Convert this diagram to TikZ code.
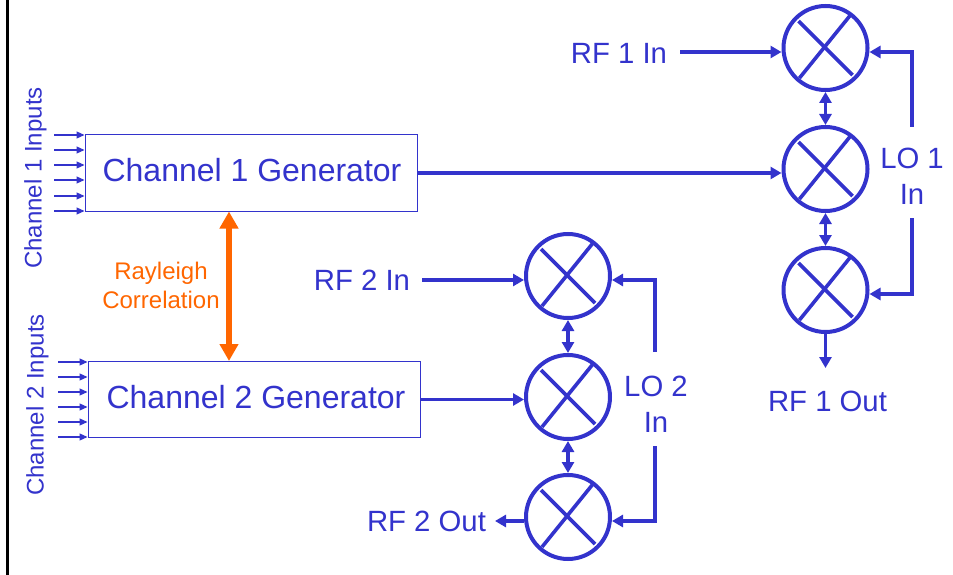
\documentclass[tikz,border=0pt]{standalone}
\usepackage{fontspec}
\setmainfont{Liberation Sans}
\usepackage{xcolor}
\usetikzlibrary{arrows.meta, positioning, calc}
\definecolor{sigblue}{HTML}{3333CC}
\definecolor{corrorange}{HTML}{FF6600}

\begin{document}
\begin{tikzpicture}[x=1pt, y=-1pt, sigblue,
    lbl/.style={inner sep=0pt, align=center, font=\fontsize{29.3}{36}\selectfont},
    small/.style={inner sep=0pt, align=center, font=\fontsize{24}{29}\selectfont},
    gen/.style={draw, line width=1pt, minimum width=332pt, minimum height=76pt, inner sep=0pt, text depth=6pt, font=\fontsize{32}{36}\selectfont},
    mixer/.style={draw, circle, line width=4pt, minimum size=84pt, inner sep=0pt},
    wire/.style={line width=3.6pt},
    sig/.style={wire, -{Triangle[length=11pt, width=12pt]}},
    dbl/.style={wire, {Triangle[length=11pt, width=12pt]}-{Triangle[length=11pt, width=12pt]}},
    pin/.style={line width=1.1pt, -{Triangle[length=8pt, width=7pt]}}]
\useasboundingbox (0, 0) rectangle (953, 575);
% Frame edge
\draw[black, line width=3pt] (7, 0) -- (7, 575);
% Generators
\node[gen] (ch1) at (251, 173) {\hspace*{2pt}Channel 1 Generator};
\node[gen] (ch2) at (254, 399.5) {\hspace*{4pt}Channel 2 Generator};
\node[small, rotate=90] (ch1in) at (35.5, 178) {Channel 1 Inputs};
\node[small, rotate=90] (ch2in) at (37.5, 405) {Channel 2 Inputs};
\foreach \i/\yy in {1/135, 2/150, 3/165, 4/180, 5/196, 6/211} {
  \coordinate (pa\i) at (54, \yy);
  \draw[pin] (pa\i) -- (pa\i -| ch1.west);
}
\foreach \i/\yy in {1/362, 2/377, 3/392, 4/407, 5/422, 6/437} {
  \coordinate (pb\i) at (58, \yy);
  \draw[pin] (pb\i) -- (pb\i -| ch2.west);
}
% Correlation
\node[small, corrorange] (corr) at (161, 285.5) {Rayleigh\\Correlation};
\draw[corrorange, line width=6pt, {Triangle[length=17pt, width=18pt]}-{Triangle[length=17pt, width=18pt]}]
  (ch1.south -| 229, 212) -- (ch2.north -| 229, 362);
% Mixers
\foreach \name/\xx/\yy in {ma/825.5/48, mb/825.5/169, mc/825.5/290, md/568/276, me/568/397, mf/568/517} {
  \node[mixer] (\name) at (\xx, \yy) {};
  \draw[wire] ([shift={(-27,-27)}]\name.center) -- ([shift={(27,27)}]\name.center);
  \draw[wire] ([shift={(25,-33)}]\name.center) -- ([shift={(-26,30)}]\name.center);
}
\draw[dbl] (ma) -- (mb);
\draw[dbl] (mb) -- (mc);
\draw[dbl] (md) -- (me);
\draw[dbl] (me) -- (mf);
% Channel 1 side
\node[lbl] (rf1in) at (619, 53) {RF 1 In};
\node[lbl] (lo1) at (912, 176) {LO 1\\In};
\node[lbl] (rf1out) at (827.5, 401) {RF 1 Out};
\coordinate (rf1a) at (680, 52);
\coordinate (lo1a) at (912, 127);
\coordinate (lo1b) at (912, 218);
\coordinate (rf1b) at (825.5, 368);
\draw[sig] (rf1a) -- (rf1a -| ma.west);
\draw[sig] (ch1.east) -- (ch1.east -| mb.west);
\draw[sig] (lo1a) |- ([yshift=-4pt]ma.east);
\draw[sig] (lo1b) |- ([yshift=-4pt]mc.east);
\draw[sig] (mc.south) -- (rf1b);
% Channel 2 side
\node[lbl] (rf2in) at (362, 280) {RF 2 In};
\node[lbl] (lo2) at (656, 404) {LO 2\\In};
\node[lbl] (rf2out) at (426.5, 521) {RF 2 Out};
\coordinate (rf2a) at (422, 280);
\coordinate (lo2a) at (655, 352);
\coordinate (lo2b) at (655, 446);
\coordinate (rf2b) at (495, 521);
\draw[sig] (rf2a) -- (rf2a -| md.west);
\draw[sig] (ch2.east) -- (ch2.east -| me.west);
\draw[sig] (lo2a) |- ([yshift=-4pt]md.east);
\draw[sig] (lo2b) |- ([yshift=-4pt]mf.east);
\draw[sig] (rf2b -| mf.west) -- (rf2b);
\end{tikzpicture}
\end{document}
